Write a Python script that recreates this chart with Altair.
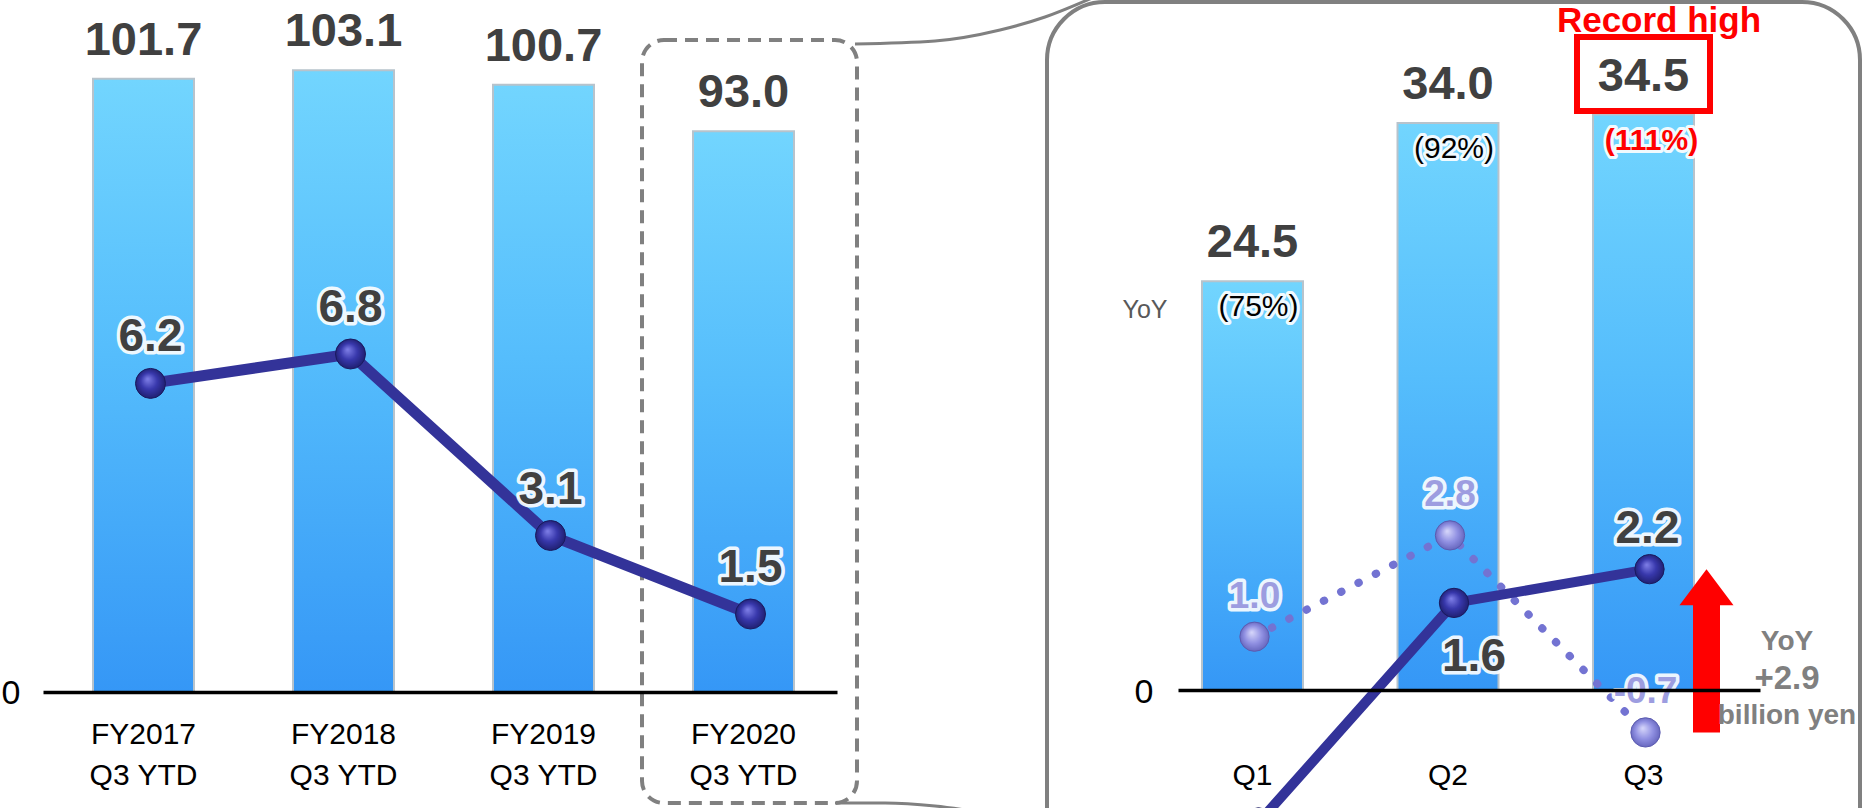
import altair as alt
import pandas as pd

# ---------------- data ----------------
fy_labels = ["FY2017\nQ3 YTD", "FY2018\nQ3 YTD", "FY2019\nQ3 YTD", "FY2020\nQ3 YTD"]
ytd_sales = [101.7, 103.1, 100.7, 93.0]
ytd_profit = [6.2, 6.8, 3.1, 1.5]

quarters = ["Q1", "Q2", "Q3"]
q_sales = [24.5, 34.0, 34.5]
q_sales_yoy = ["(75%)", "(92%)", "(111%)"]
q_profit = [-2.3, 1.6, 2.2]
q_profit_prev = [1.0, 2.8, -0.7]

yoy_note = ["YoY", "+2.9", "billion yen"]
record_note = "Record high"
yoy_head = "YoY"

left = pd.DataFrame({"fy": fy_labels, "idx": list(range(len(fy_labels))),
                     "sales": ytd_sales, "profit": ytd_profit})
left["sales_txt"] = [f"{v:.1f}" for v in ytd_sales]
left["profit_txt"] = [f"{v:.1f}" for v in ytd_profit]

right = pd.DataFrame({"q": quarters, "idx": list(range(len(quarters))),
                      "sales": q_sales, "yoy": q_sales_yoy,
                      "profit": q_profit, "prev": q_profit_prev})
right["sales_txt"] = [f"{v:.1f}" for v in q_sales]
right["profit_txt"] = [f"{v:.1f}" for v in q_profit]
right["prev_txt"] = [f"{v:.1f}" for v in q_profit_prev]

FONT = "Liberation Sans, Arial, Helvetica, sans-serif"
DARK = "#404040"
NAVY = "#333399"
GREY = "#808080"

# ---------------- scales ----------------
xL = alt.Scale(type="band", domain=fy_labels, range=[43, 837],
               paddingInner=0.495, paddingOuter=0.2325, align=0.5376)
xR = alt.Scale(type="band", domain=quarters, range=[1178, 1760],
               paddingInner=0.4834, paddingOuter=0.2302, align=0.2667)
yLbar = alt.Scale(domain=[0, 114.76], range=[692, 0], nice=False, zero=False)
yLline = alt.Scale(domain=[0, 14.015], range=[687.6, 0], nice=False, zero=False)
yRbar = alt.Scale(domain=[0, 41.37], range=[690, 0], nice=False, zero=False)
yRline = alt.Scale(domain=[0, 12.31], range=[693, 0], nice=False, zero=False)

bar_grad = alt.Gradient(gradient="linear", x1=0, x2=0, y1=0, y2=1,
                        stops=[alt.GradientStop(color="#72d5fe", offset=0),
                               alt.GradientStop(color="#55bdfc", offset=0.45),
                               alt.GradientStop(color="#3597f6", offset=1)])
dark_ball = alt.RadialGradient(gradient="radial", x1=0.4, y1=0.35, r1=0.0,
                               x2=0.5, y2=0.5, r2=0.55,
                               stops=[alt.GradientStop(color="#8080e8", offset=0),
                                      alt.GradientStop(color="#3838ac", offset=0.5),
                                      alt.GradientStop(color="#1c1c68", offset=1)])
light_ball = alt.RadialGradient(gradient="radial", x1=0.4, y1=0.35, r1=0.0,
                                x2=0.5, y2=0.5, r2=0.55,
                                stops=[alt.GradientStop(color="#d8d8fb", offset=0),
                                       alt.GradientStop(color="#9090e2", offset=0.55),
                                       alt.GradientStop(color="#6060b8", offset=1)])


def band_axis(offset, pad, expr=None):
    kw = dict(orient="bottom", offset=offset, title=None, domain=True,
              domainColor="black", domainWidth=3.5, ticks=False,
              labelFont=FONT, labelFontSize=30, labelColor="black",
              labelPadding=pad, labelLineHeight=41, labelAngle=0,
              labelOverlap=False, grid=False, zindex=1)
    if expr:
        kw["labelExpr"] = expr
    return alt.Axis(**kw)


xl = alt.X("fy:N", scale=xL, axis=None)
xr = alt.X("q:N", scale=xR, axis=None)


def halo_text(chart, x, y, text, size, color, dy=0, dx=0, weight="bold",
              halo=7, xoff=0):
    enc = dict(x=x, y=y, text=text)
    h = chart.mark_text(font=FONT, fontSize=size, fontWeight=weight, dy=dy, dx=dx,
                        xOffset=xoff, stroke="white", strokeWidth=halo,
                        strokeJoin="round", fill="white", opacity=0.9).encode(**enc)
    t = chart.mark_text(font=FONT, fontSize=size, fontWeight=weight, dy=dy, dx=dx,
                        xOffset=xoff, fill=color).encode(**enc)
    return [h, t]


one = alt.Data(values=[{}])
layers = []

# ---------------- decorations (frames) ----------------
layers.append(alt.Chart(one).mark_rect(fill="transparent", stroke=GREY, strokeWidth=4,
                                       cornerRadius=58).encode(
    x=alt.value(1047), x2=alt.value(1860), y=alt.value(2), y2=alt.value(920)))
layers.append(alt.Chart(one).mark_rect(fill="transparent", stroke=GREY, strokeWidth=4,
                                       strokeDash=[13, 8], cornerRadius=22).encode(
    x=alt.value(642), x2=alt.value(857), y=alt.value(40), y2=alt.value(803)))
conn_top = pd.DataFrame({"px": [855, 935, 1000, 1045, 1092], "py": [44, 41, 30, 17, -2]})
conn_bot = pd.DataFrame({"px": [835, 885, 935, 990], "py": [803, 803, 806, 814]})
for c in (conn_top, conn_bot):
    layers.append(alt.Chart(c).mark_line(color=GREY, strokeWidth=3,
                                         interpolate="monotone").encode(
        x=alt.X("px:Q", scale=None, axis=None), y=alt.Y("py:Q", scale=None, axis=None)))

# ---------------- left panel ----------------
L = alt.Chart(left)
layers.append(L.mark_bar(fill=bar_grad, stroke="#b7c3cc", strokeWidth=2).encode(
    x=alt.X("fy:N", scale=xL, axis=band_axis(-116, 27, "split(datum.label, '\\n')")),
    y=alt.Y("sales:Q", scale=yLbar, axis=None)))
layers.append(L.mark_text(font=FONT, fontSize=47, fontWeight="bold", fill=DARK,
                          dy=-38).encode(
    x=xl, y=alt.Y("sales:Q", scale=yLbar, axis=None), text="sales_txt:N"))
layers.append(L.mark_line(color=NAVY, strokeWidth=11, xOffset=7).encode(
    x=xl, y=alt.Y("profit:Q", scale=yLline, axis=None), order="idx:Q"))
layers.append(L.mark_circle(size=900, fill=dark_ball, stroke="#1a1a5e", strokeWidth=1,
                            opacity=1, xOffset=7).encode(
    x=xl, y=alt.Y("profit:Q", scale=yLline, axis=None)))
layers += halo_text(L, xl, alt.Y("profit:Q", scale=yLline, axis=None), "profit_txt:N",
                    46, DARK, dy=-46, xoff=7)
layers.append(alt.Chart(one).mark_text(font=FONT, fontSize=34, fill="black").encode(
    x=alt.value(11), y=alt.value(694), text=alt.value("0")))

# ---------------- right panel ----------------
R = alt.Chart(right)
layers.append(R.mark_bar(fill=bar_grad, stroke="#b7c3cc", strokeWidth=2).encode(
    x=alt.X("q:N", scale=xR, axis=band_axis(-118, 70)),
    y=alt.Y("sales:Q", scale=yRbar, axis=None)))
layers.append(R.mark_text(font=FONT, fontSize=47, fontWeight="bold", fill=DARK,
                          dy=-38).encode(
    x=xr, y=alt.Y("sales:Q", scale=yRbar, axis=None), text="sales_txt:N"))
layers += halo_text(R.transform_filter("datum.q != 'Q3'"), xr,
                    alt.Y("sales:Q", scale=yRbar, axis=None), "yoy:N", 30, "black",
                    dy=26, dx=6, weight="normal", halo=6)
layers += halo_text(R.transform_filter("datum.q == 'Q3'"), xr,
                    alt.Y("sales:Q", scale=yRbar, axis=None), "yoy:N", 30, "#ff0000",
                    dy=26, dx=8, weight="bold", halo=6)
# record-high frame and note
layers.append(alt.Chart(one).mark_rect(fill="transparent", stroke="#ff0000",
                                       strokeWidth=6).encode(
    x=alt.value(1577), x2=alt.value(1710), y=alt.value(37), y2=alt.value(111)))
layers.append(alt.Chart(one).mark_text(font=FONT, fontSize=35, fontWeight="bold",
                                       fill="#ff0000").encode(
    x=alt.value(1659), y=alt.value(21), text=alt.value(record_note)))
layers.append(alt.Chart(one).mark_text(font=FONT, fontSize=25, fill="#595959").encode(
    x=alt.value(1145), y=alt.value(310), text=alt.value(yoy_head)))
layers.append(alt.Chart(one).mark_text(font=FONT, fontSize=34, fill="black").encode(
    x=alt.value(1144), y=alt.value(693), text=alt.value("0")))

# previous-year line (dotted)
layers.append(R.mark_line(color="#7373d2", strokeWidth=8, strokeDash=[0.5, 19],
                          strokeCap="round", xOffset=2).encode(
    x=xr, y=alt.Y("prev:Q", scale=yRline, axis=None), order="idx:Q"))
# current-year line
layers.append(R.mark_line(color=NAVY, strokeWidth=10, xOffset=6).encode(
    x=xr, y=alt.Y("profit:Q", scale=yRline, axis=None), order="idx:Q"))
layers.append(R.mark_circle(size=860, fill=light_ball, stroke="#5b5bb0", strokeWidth=1,
                            opacity=1, xOffset=2).encode(
    x=xr, y=alt.Y("prev:Q", scale=yRline, axis=None)))
layers.append(R.mark_circle(size=860, fill=dark_ball, stroke="#1a1a5e", strokeWidth=1,
                            opacity=1, xOffset=6).encode(
    x=xr, y=alt.Y("profit:Q", scale=yRline, axis=None)))
layers += halo_text(R, xr, alt.Y("prev:Q", scale=yRline, axis=None), "prev_txt:N",
                    37, "#9d9de0", dy=-40, xoff=2)
layers += halo_text(R.transform_filter("datum.q == 'Q3'"), xr,
                    alt.Y("profit:Q", scale=yRline, axis=None), "profit_txt:N",
                    46, DARK, dy=-40, xoff=4)
layers += halo_text(R.transform_filter("datum.q == 'Q2'"), xr,
                    alt.Y("profit:Q", scale=yRline, axis=None), "profit_txt:N",
                    46, DARK, dy=54, xoff=26)

# YoY change arrow (from previous-year Q3 to current Q3)
A = R.transform_filter("datum.q == 'Q3'")
layers.append(A.mark_rule(color="#ff0000", strokeWidth=27, strokeCap="butt",
                          xOffset=63, y2Offset=35).encode(
    x=xr, y=alt.Y("prev:Q", scale=yRline, axis=None),
    y2=alt.Y2("profit:Q")))
layers.append(A.mark_point(shape="M0,0L1,1.333L-1,1.333Z", size=2916, filled=True,
                           fill="#ff0000", strokeWidth=0, opacity=1, xOffset=63).encode(
    x=xr, y=alt.Y("profit:Q", scale=yRline, axis=None)))
for txt, yy, fs in zip(yoy_note, [642, 679, 716], [28, 33, 28]):
    layers.append(alt.Chart(one).mark_text(font=FONT, fontSize=fs, fontWeight="bold",
                                           fill=GREY).encode(
        x=alt.value(1787), y=alt.value(yy), text=alt.value(txt)))

chart = alt.layer(*layers).resolve_scale(x="independent", y="independent").properties(
    width=1864, height=808, autosize=alt.AutoSizeParams(type="none"), padding=0,
    background="white"
).configure_view(stroke=None)

chart.save("out.html", embed_options={"renderer": "svg", "actions": False})
